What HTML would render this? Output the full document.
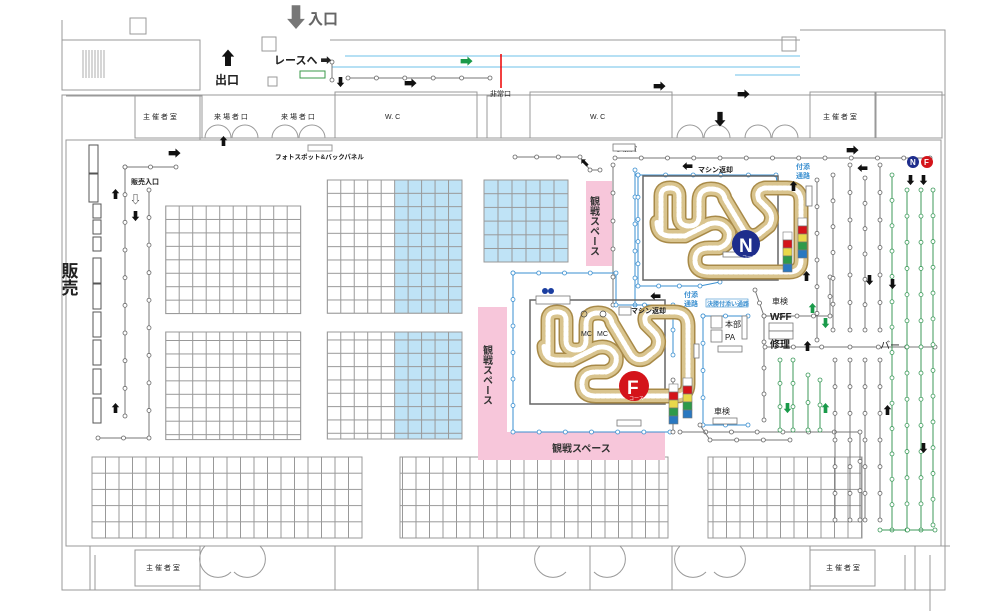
<!DOCTYPE html>
<html><head><meta charset="utf-8"><style>
html,body{margin:0;padding:0;background:#fff;}
svg{display:block;font-family:"Liberation Sans","Noto Sans CJK JP",sans-serif;}
</style></head><body>
<svg id="s" width="1000" height="611" viewBox="0 0 1000 611" xmlns="http://www.w3.org/2000/svg">
<defs>
<pattern id="g" x="165.7" y="206" width="13.5" height="13.45" patternUnits="userSpaceOnUse"><rect width="13.5" height="13.45" fill="none" stroke="#999" stroke-width="1"/></pattern>
<pattern id="g2" x="327.3" y="180" width="13.47" height="13.33" patternUnits="userSpaceOnUse"><rect width="13.47" height="13.33" fill="none" stroke="#999" stroke-width="1"/></pattern>
<pattern id="g3" x="484" y="180" width="14" height="13.7" patternUnits="userSpaceOnUse"><rect width="14" height="13.7" fill="none" stroke="#999" stroke-width="1"/></pattern>
<pattern id="gb" x="92" y="457" width="13.5" height="16.2" patternUnits="userSpaceOnUse"><rect width="13.5" height="16.2" fill="none" stroke="#999" stroke-width="1"/></pattern>
<marker id="dot" markerWidth="6" markerHeight="6" refX="3" refY="3" markerUnits="userSpaceOnUse"><circle cx="3" cy="3" r="2" fill="#fff" stroke="#666" stroke-width="0.8"/></marker>
<marker id="dotb" markerWidth="6" markerHeight="6" refX="3" refY="3" markerUnits="userSpaceOnUse"><circle cx="3" cy="3" r="2" fill="#fff" stroke="#3a8fd0" stroke-width="0.8"/></marker>
<marker id="dotg" markerWidth="6" markerHeight="6" refX="3" refY="3" markerUnits="userSpaceOnUse"><circle cx="3" cy="3" r="2" fill="#fff" stroke="#3c9a5a" stroke-width="0.8"/></marker>
</defs>

<g fill="none" stroke="#999" stroke-width="1">
<rect x="62" y="95" width="883" height="495"/>
<rect x="66" y="140" width="875" height="406"/>
<path d="M62 20 V90 H200 V40 H62"/>
<path d="M800 30 H945 V95"/>
<path d="M330 40 H800"/>
<rect x="262" y="37" width="14" height="14"/><rect x="268" y="77" width="9" height="9"/>
<rect x="130" y="18" width="16" height="16"/><rect x="782" y="37" width="14" height="14"/>
<path d="M66 96 H200 V140"/><rect x="135" y="96" width="67" height="42"/>
<rect x="335" y="92" width="142" height="46"/><rect x="530" y="92" width="142" height="46"/>
<rect x="810" y="92" width="65" height="46"/><rect x="876" y="92" width="66" height="46"/>
<rect x="487" y="96" width="14" height="42"/><path d="M200 138 H335 M477 138 H530 M672 138 H810"/>
<path d="M205 138 a13 13 0 0 1 26 0 M232 138 a13 13 0 0 1 26 0 M272 138 a13 13 0 0 1 26 0 M299 138 a13 13 0 0 1 26 0"/>
<path d="M677 138 a13 13 0 0 1 26 0 M704 138 a13 13 0 0 1 26 0 M745 138 a13 13 0 0 1 26 0 M772 138 a13 13 0 0 1 26 0"/>
<rect x="308" y="145" width="24" height="6"/>
<path d="M66 546 H950 M90 546 V590 M200 546 V590 M335 546 V590 M478 546 V590 M590 546 V590 M672 546 V590 M810 546 V590 M915 546 V590"/>
<rect x="135" y="550" width="65" height="36"/><rect x="810" y="550" width="65" height="36"/>
<path d="M205 546 a13 13 0 0 0 26 26 M260 546 a13 13 0 0 1 -26 26 M540 546 a13 13 0 0 0 26 26 M620 546 a13 13 0 0 1 -26 26 M680 546 a13 13 0 0 0 26 26 M740 546 a13 13 0 0 1 -26 26"/>
<path d="M95 555 V590 M905 555 V590 M930 555 V611"/>
</g>
<g stroke="#999" stroke-width="0.8"><path d="M83 50 V78 M86 50 V78 M89 50 V78 M92 50 V78 M95 50 V78 M98 50 V78 M101 50 V78 M104 50 V78"/></g>

<g fill="#fff" stroke="#555" stroke-width="1">
<rect x="89" y="145" width="9" height="28"/><rect x="89" y="174" width="9" height="28"/>
<rect x="93" y="204" width="8" height="14"/><rect x="93" y="220" width="8" height="14"/><rect x="93" y="237" width="8" height="14"/>
<rect x="93" y="258" width="8" height="25"/><rect x="93" y="284" width="8" height="25"/><rect x="93" y="312" width="8" height="25"/><rect x="93" y="340" width="8" height="25"/><rect x="93" y="369" width="8" height="25"/><rect x="93" y="398" width="8" height="25"/>
</g>
<text x="68" y="262" font-size="17" font-weight="bold" writing-mode="tb" fill="#222">販売</text>

<rect x="394.7" y="180" width="67.3" height="133.3" fill="#bfe3f6"/>
<rect x="394.7" y="332" width="67.3" height="107" fill="#bfe3f6"/>
<rect x="484" y="180" width="84" height="82" fill="#bfe3f6"/>
<rect x="165.7" y="206" width="135" height="107.6" fill="url(#g)" stroke="#999"/>
<rect x="165.7" y="332" width="135" height="107.6" fill="url(#g)" stroke="#999"/>
<rect x="327.3" y="180" width="134.7" height="133.3" fill="url(#g2)" stroke="#999"/>
<rect x="327.3" y="332" width="134.7" height="107" fill="url(#g2)" stroke="#999"/>
<rect x="484" y="180" width="84" height="82" fill="url(#g3)" stroke="#999"/>
<rect x="92" y="457" width="270" height="81" fill="url(#gb)" stroke="#999"/>
<rect x="400" y="457" width="268" height="81" fill="url(#gb)" stroke="#999"/>
<rect x="708" y="457" width="154" height="81" fill="url(#gb)" stroke="#999"/>

<rect x="586" y="181" width="26" height="85" fill="#f7c6da"/>
<text x="593" y="196" font-size="10" writing-mode="tb" fill="#333" font-weight="bold">観戦スペース</text>
<path d="M478 307 H507 V432 H665 V460 H478 Z" fill="#f7c6da"/>
<text x="486" y="345" font-size="10" writing-mode="tb" fill="#333" font-weight="bold">観戦スペース</text>
<text x="552" y="452" font-size="10" fill="#333" font-weight="bold">観戦スペース</text>

<g stroke="#6cc0ea" stroke-width="1" fill="none"><path d="M345 56 H800 M332 67 H800 M735 75 H800"/></g>
<line x1="501" y1="54" x2="501" y2="88" stroke="#e00" stroke-width="1.5"/>
<rect x="300" y="71" width="25" height="7" fill="none" stroke="#3a9a4a"/>

<g id="lines" fill="none"></g>
<g id="trk"></g>

<g font-size="13" fill="#111" font-weight="bold">
<text x="219" y="65" font-size="18">⬆</text>
<text x="168" y="158">➡</text><text x="460" y="66" fill="#1a9a4a">➡</text>
<text x="335" y="86" font-size="11">⬇</text><text x="404" y="88">➡</text>
<text x="218" y="145" font-size="11">⬆</text>
<text x="110" y="198" font-size="11">⬆</text><text x="130" y="220" font-size="11">⬇</text><text x="110" y="412" font-size="11">⬆</text>
<text x="653" y="91">➡</text><text x="737" y="99">➡</text><text x="846" y="155">➡</text>
<text x="712" y="125" font-size="16">⬇</text>
<text x="580" y="166" font-size="11">⬉</text>
<text x="682" y="170" font-size="11">⬅</text><text x="857" y="172" font-size="11">⬅</text>
<text x="788" y="190" font-size="11">⬆</text>
<text x="905" y="184" font-size="11">⬇</text><text x="918" y="184" font-size="11">⬇</text>
<text x="801" y="280" font-size="11">⬆</text><text x="864" y="284" font-size="11">⬇</text><text x="887" y="288" font-size="11">⬇</text>
<text x="802" y="350" font-size="11">⬆</text><text x="650" y="300" font-size="11">⬅</text>
<text x="807" y="312" font-size="11" fill="#1a9a4a">⬆</text><text x="820" y="327" font-size="11" fill="#1a9a4a">⬇</text>
<text x="782" y="412" font-size="11" fill="#1a9a4a">⬇</text><text x="820" y="412" font-size="11" fill="#1a9a4a">⬆</text>
<text x="882" y="414" font-size="11">⬆</text><text x="918" y="452" font-size="11">⬇</text>
<text x="130" y="203" font-size="11" font-weight="normal">⇩</text>
</g>
<text x="283" y="27" font-size="26" fill="#777">⬇</text>
<text x="308" y="24" font-size="15" font-weight="bold" fill="#666">入口</text>
<text x="215" y="84" font-size="12" font-weight="bold" fill="#222">出口</text>
<text x="274" y="64" font-size="11" font-weight="bold" fill="#222">レースへ ➡</text>

<g font-size="7" fill="#222">
<text x="143" y="119">主 催 者 室</text><text x="214" y="119">来 場 者 口</text><text x="281" y="119">来 場 者 口</text>
<text x="385" y="119">W. C</text><text x="590" y="119">W. C</text><text x="823" y="119">主 催 者 室</text>
<text x="146" y="570">主 催 者 室</text><text x="826" y="570">主 催 者 室</text>
<text x="275" y="159" font-size="6.5" font-weight="bold">フォトスポット&amp;バックパネル</text>
<text x="131" y="184" font-weight="bold">販売入口</text>
<text x="490" y="96">非常口</text><text x="616" y="151">参加賞</text>
<text x="698" y="172" font-weight="bold">マシン返却</text>
<text x="631" y="313" font-weight="bold">マシン返却</text>
<text x="545" y="303" font-size="8" font-weight="bold">表彰</text>
<text x="581" y="336">MC</text><text x="597" y="336">MC</text>
<text x="772" y="304" font-size="8">車検</text><text x="714" y="414" font-size="8">車検</text>
<text x="770" y="320" font-size="10" font-weight="bold">WFF</text>
<text x="770" y="348" font-size="10" font-weight="bold">修理</text>
<text x="880" y="349" font-size="10">バー</text>
<text x="725" y="327" font-size="8">本部</text><text x="725" y="340" font-size="8">PA</text>
</g>
<g font-size="7" fill="#3a8fd0" font-weight="bold"><text x="796" y="169">付添</text><text x="796" y="178">通路</text>
<text x="684" y="297">付添</text><text x="684" y="306">通路</text>
<rect x="706" y="299" width="42" height="8" fill="none" stroke="#3a8fd0" stroke-width="0.6"/><text x="707" y="306" font-size="6">決勝付添い通路</text></g>

<g fill="#fff" stroke="#777" stroke-width="0.8">
<rect x="536" y="296" width="34" height="8"/><rect x="619" y="307" width="12" height="8"/>
<rect x="711" y="316" width="11" height="12"/><rect x="711" y="330" width="11" height="12"/><rect x="742" y="316" width="5" height="23"/><rect x="718" y="346" width="24" height="6"/>
<rect x="769" y="323" width="24" height="8"/><rect x="769" y="331" width="24" height="8"/>
<rect x="713" y="418" width="24" height="6"/><rect x="617" y="420" width="24" height="6"/>
<rect x="723" y="252" width="24" height="5"/><rect x="613" y="144" width="22" height="7"/><rect x="806" y="186" width="6" height="20"/><rect x="694" y="344" width="5" height="14"/>
</g>
<circle cx="545" cy="291" r="3" fill="#1a3da0"/><circle cx="551" cy="291" r="3" fill="#1a3da0"/>
<circle cx="584" cy="314" r="3" fill="none" stroke="#444" stroke-width="0.7"/><circle cx="603" cy="314" r="3" fill="none" stroke="#444" stroke-width="0.7"/>

<g id="bins"></g>

<circle cx="746" cy="244" r="14" fill="#1e2d8c"/><text x="739" y="252" font-size="19" font-weight="bold" fill="#fff">N</text>
<text x="742" y="259" font-size="5" fill="#fff">コース</text>
<circle cx="634" cy="386" r="15" fill="#d4141a"/><text x="627" y="394" font-size="19" font-weight="bold" fill="#fff">F</text>
<text x="629" y="400" font-size="5" fill="#fff">コース</text>
<circle cx="913" cy="162" r="6" fill="#1e2d8c"/><text x="910" y="165" font-size="8" fill="#fff" font-weight="bold">N</text>
<circle cx="927" cy="162" r="6" fill="#d4141a"/><text x="924" y="165" font-size="8" fill="#fff" font-weight="bold">F</text>
</svg>
<script>
var NS="http://www.w3.org/2000/svg";
function el(p,t,a){var e=document.createElementNS(NS,t);for(var k in a)e.setAttribute(k,a[k]);p.appendChild(e);return e;}
var L=document.getElementById("lines");
function pl(pts,col,mk,dots){
 var out=[];for(var i=0;i<pts.length-1;i++){var a=pts[i],b=pts[i+1];var d=Math.hypot(b[0]-a[0],b[1]-a[1]);var n=Math.max(1,Math.round(d/(dots||26)));for(var j=0;j<n;j++)out.push([a[0]+(b[0]-a[0])*j/n,a[1]+(b[1]-a[1])*j/n]);}
 out.push(pts[pts.length-1]);
 el(L,"polyline",{points:out.map(function(p){return p.join(",")}).join(" "),stroke:col,"stroke-width":1,fill:"none","marker-start":"url(#"+mk+")","marker-mid":"url(#"+mk+")","marker-end":"url(#"+mk+")"});
}
var G="#777",B="#3a8fd0",Gr="#3c9a5a";
pl([[332,62],[332,80]],G,"dot",30);
pl([[348,78],[490,78]],G,"dot",26);
pl([[125,167],[176,167]],G,"dot",26);
pl([[125,167],[125,416]],G,"dot",27);
pl([[149,190],[149,438],[98,438]],G,"dot",27);
pl([[515,157],[580,157],[590,170],[600,170]],G,"dot",22);
pl([[615,158],[930,158]],G,"dot",26);
pl([[613,165],[613,305]],G,"dot",26);
pl([[635,170],[635,305]],B,"dotb",26);
pl([[638,175],[776,175],[778,190]],B,"dotb",26);
pl([[638,175],[638,286],[700,286],[720,282]],B,"dotb",22);
pl([[513,273],[616,273],[616,305],[673,305],[673,355]],B,"dotb",26);
pl([[513,273],[513,432],[670,432]],B,"dotb",26);
pl([[673,380],[673,432]],G,"dot",30);
pl([[703,316],[703,425],[748,425]],B,"dotb",26);
pl([[703,316],[748,316]],B,"dotb",22);
pl([[755,290],[764,316],[830,316],[830,277]],G,"dot",18);
pl([[764,316],[764,420]],G,"dot",26);
pl([[680,432],[860,432],[860,520]],G,"dot",26);
pl([[700,425],[710,440],[790,440]],G,"dot",26);
pl([[765,347],[935,347]],G,"dot",27);
pl([[817,180],[817,340]],G,"dot",26);
[[833,175,330],[850,165,330],[865,178,330],[880,165,330],[835,360,520],[850,360,520],[865,360,520],[880,360,520]].forEach(function(a){pl([[a[0],a[1]],[a[0],a[2]]],G,"dot",26);});
[[892,175,530],[907,190,530],[921,190,530],[933,190,525],[780,360,430],[793,360,430],[808,375,430],[820,380,430]].forEach(function(a){pl([[a[0],a[1]],[a[0],a[2]]],Gr,"dotg",26);});
pl([[880,530],[935,530]],Gr,"dotg",26);

var T=document.getElementById("trk");
function track(d){el(T,"path",{d:d,stroke:"#a88a48","stroke-width":15,fill:"none","stroke-linejoin":"round","stroke-linecap":"round"});
el(T,"path",{d:d,stroke:"#d9c48e","stroke-width":12,fill:"none","stroke-linejoin":"round","stroke-linecap":"round"});
el(T,"path",{d:d,stroke:"#fff","stroke-width":5,fill:"none","stroke-linejoin":"round","stroke-linecap":"round","stroke-dasharray":"3 2"});}
function course(ox,oy){
 el(T,"rect",{x:ox,y:oy,width:135,height:104,fill:"none",stroke:"#666","stroke-width":1.5});
 track("M"+(ox+18)+" "+(oy+55)+" V"+(oy+20)+" q0 -8 9 -8 q9 0 9 8 V"+(oy+40)+" q0 10 10 10 q10 0 10 -10 V"+(oy+25)+" q0 -12 12 -12 q12 0 14 10 l18 30 q6 10 16 5 l10 -8 q6 -10 -2 -18 l-8 -8 q-4 -10 6 -12 h22 q14 0 14 14 v58 q0 12 -12 12 h-80 q-14 0 -14 -12 q0 -12 14 -12 h10 q12 -4 10 -16 q-6 -12 -20 -8 l-24 12 h-14 q-14 0 -14 -14 z");
}
course(530,300);course(643,176);
var Bn=document.getElementById("bins");
[[683,378],[669,384],[783,232],[798,218]].forEach(function(p){var c=["#fff","#d4141a","#e8d84a","#2e9a4a","#2a78c0"];c.forEach(function(f,i){el(Bn,"rect",{x:p[0],y:p[1]+i*8,width:9,height:8,fill:f,stroke:"#777","stroke-width":0.6});});});
</script>
</body></html>
